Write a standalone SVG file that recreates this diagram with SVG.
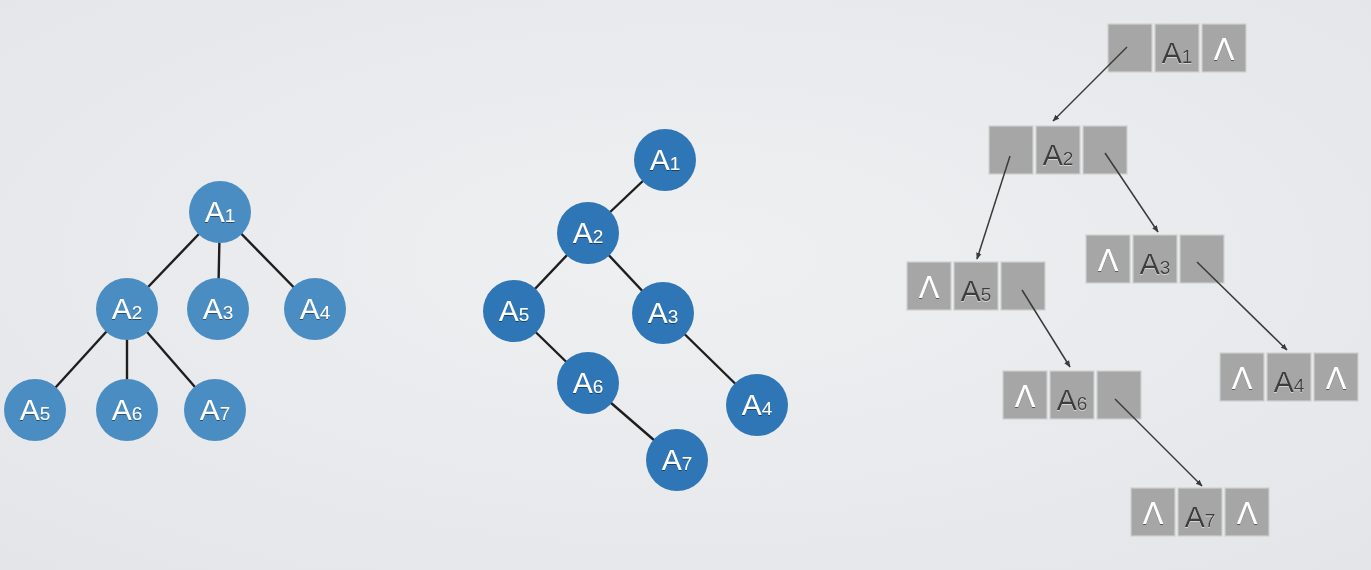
<svg xmlns="http://www.w3.org/2000/svg" width="1371" height="570" viewBox="0 0 1371 570">
<defs>
<radialGradient id="bg" cx="50%" cy="45%" r="75%">
<stop offset="0" stop-color="#eff0f2"/>
<stop offset="1" stop-color="#e3e5e8"/>
</radialGradient>
<marker id="ah" viewBox="0 0 10 10" refX="9" refY="5" markerWidth="7" markerHeight="7" orient="auto" markerUnits="userSpaceOnUse">
<path d="M0,1 L10,5 L0,9 z" fill="#3a3a3a"/>
</marker>
<filter id="sh" x="-20%" y="-20%" width="140%" height="140%">
<feDropShadow dx="0" dy="1" stdDeviation="0.6" flood-color="#000" flood-opacity="0.45"/>
</filter>
<filter id="lsh" x="-20%" y="-20%" width="140%" height="140%">
<feDropShadow dx="0" dy="1" stdDeviation="0.5" flood-color="#fff" flood-opacity="0.5"/>
</filter>
</defs>
<style>
.edge{stroke:#1e1e1e;stroke-width:2.4;fill:none}
.arrow{stroke:#3a3a3a;stroke-width:1.5;fill:none;marker-end:url(#ah)}
.c1{fill:#4a8dc3}
.c2{fill:#2e76b5}
.ct{font-family:"Liberation Sans",Arial,sans-serif;font-size:30px;fill:#fff;text-anchor:middle;filter:url(#sh)}
.sub{font-size:19px}
.box{fill:#a6a6a6;stroke:#cfd0d1;stroke-width:1.2}
.bt{font-family:"Liberation Sans",Arial,sans-serif;font-size:30px;fill:#3d3d3d;text-anchor:middle;filter:url(#lsh)}
.lam{font-family:"Liberation Sans",Arial,sans-serif;font-size:31px;fill:#fff;text-anchor:middle;filter:url(#sh)}
</style>
<rect width="1371" height="570" fill="url(#bg)"/>

<g id="connectors">
<g id="left-edges">
<line class="edge" x1="220" y1="212" x2="127" y2="309"/>
<line class="edge" x1="220" y1="212" x2="218" y2="309"/>
<line class="edge" x1="220" y1="212" x2="315" y2="309"/>
<line class="edge" x1="127" y1="309" x2="35" y2="410"/>
<line class="edge" x1="127" y1="309" x2="127" y2="410"/>
<line class="edge" x1="127" y1="309" x2="215" y2="410"/>
</g>
<g id="mid-edges">
<line class="edge" x1="665" y1="160" x2="588" y2="233"/>
<line class="edge" x1="588" y1="233" x2="514" y2="311"/>
<line class="edge" x1="588" y1="233" x2="663" y2="313"/>
<line class="edge" x1="514" y1="311" x2="588" y2="383"/>
<line class="edge" x1="588" y1="383" x2="677" y2="460"/>
<line class="edge" x1="663" y1="313" x2="757" y2="405"/>
</g>
</g>

<g id="left-tree">
<g id="L-A1"><circle class="c1" cx="220" cy="212" r="31"/><text class="ct" x="220" y="222">A<tspan class="sub">1</tspan></text></g>
<g id="L-A2"><circle class="c1" cx="127" cy="309" r="31"/><text class="ct" x="127" y="319">A<tspan class="sub">2</tspan></text></g>
<g id="L-A3"><circle class="c1" cx="218" cy="309" r="31"/><text class="ct" x="218" y="319">A<tspan class="sub">3</tspan></text></g>
<g id="L-A4"><circle class="c1" cx="315" cy="309" r="31"/><text class="ct" x="315" y="319">A<tspan class="sub">4</tspan></text></g>
<g id="L-A5"><circle class="c1" cx="35" cy="410" r="31"/><text class="ct" x="35" y="420">A<tspan class="sub">5</tspan></text></g>
<g id="L-A6"><circle class="c1" cx="127" cy="410" r="31"/><text class="ct" x="127" y="420">A<tspan class="sub">6</tspan></text></g>
<g id="L-A7"><circle class="c1" cx="215" cy="410" r="31"/><text class="ct" x="215" y="420">A<tspan class="sub">7</tspan></text></g>
</g>

<g id="mid-tree">
<g id="M-A1"><circle class="c2" cx="665" cy="160" r="31"/><text class="ct" x="665" y="170">A<tspan class="sub">1</tspan></text></g>
<g id="M-A2"><circle class="c2" cx="588" cy="233" r="31"/><text class="ct" x="588" y="243">A<tspan class="sub">2</tspan></text></g>
<g id="M-A5"><circle class="c2" cx="514" cy="311" r="31"/><text class="ct" x="514" y="321">A<tspan class="sub">5</tspan></text></g>
<g id="M-A3"><circle class="c2" cx="663" cy="313" r="31"/><text class="ct" x="663" y="323">A<tspan class="sub">3</tspan></text></g>
<g id="M-A6"><circle class="c2" cx="588" cy="383" r="31"/><text class="ct" x="588" y="393">A<tspan class="sub">6</tspan></text></g>
<g id="M-A4"><circle class="c2" cx="757" cy="405" r="31"/><text class="ct" x="757" y="415">A<tspan class="sub">4</tspan></text></g>
<g id="M-A7"><circle class="c2" cx="677" cy="460" r="31"/><text class="ct" x="677" y="470">A<tspan class="sub">7</tspan></text></g>
</g>

<g id="right-structure">
<g id="R-A1">
<rect class="box" x="1108" y="24" width="44" height="48"/>
<rect class="box" x="1155" y="24" width="44" height="48"/>
<rect class="box" x="1202" y="24" width="44" height="48"/>
<text class="bt" x="1177" y="63">A<tspan class="sub">1</tspan></text>
<text class="lam" x="1224" y="60">Λ</text>
</g>
<g id="R-A2">
<rect class="box" x="989" y="126" width="44" height="48"/>
<rect class="box" x="1036" y="126" width="44" height="48"/>
<rect class="box" x="1083" y="126" width="44" height="48"/>
<text class="bt" x="1058" y="165">A<tspan class="sub">2</tspan></text>
</g>
<g id="R-A5">
<rect class="box" x="907" y="262" width="44" height="48"/>
<rect class="box" x="954" y="262" width="44" height="48"/>
<rect class="box" x="1001" y="262" width="44" height="48"/>
<text class="lam" x="929" y="298">Λ</text>
<text class="bt" x="976" y="301">A<tspan class="sub">5</tspan></text>
</g>
<g id="R-A3">
<rect class="box" x="1086" y="235" width="44" height="48"/>
<rect class="box" x="1133" y="235" width="44" height="48"/>
<rect class="box" x="1180" y="235" width="44" height="48"/>
<text class="lam" x="1108" y="271">Λ</text>
<text class="bt" x="1155" y="274">A<tspan class="sub">3</tspan></text>
</g>
<g id="R-A6">
<rect class="box" x="1003" y="371" width="44" height="48"/>
<rect class="box" x="1050" y="371" width="44" height="48"/>
<rect class="box" x="1097" y="371" width="44" height="48"/>
<text class="lam" x="1025" y="407">Λ</text>
<text class="bt" x="1072" y="410">A<tspan class="sub">6</tspan></text>
</g>
<g id="R-A4">
<rect class="box" x="1220" y="353" width="44" height="48"/>
<rect class="box" x="1267" y="353" width="44" height="48"/>
<rect class="box" x="1314" y="353" width="44" height="48"/>
<text class="lam" x="1242" y="389">Λ</text>
<text class="bt" x="1289" y="392">A<tspan class="sub">4</tspan></text>
<text class="lam" x="1336" y="389">Λ</text>
</g>
<g id="R-A7">
<rect class="box" x="1131" y="488" width="44" height="48"/>
<rect class="box" x="1178" y="488" width="44" height="48"/>
<rect class="box" x="1225" y="488" width="44" height="48"/>
<text class="lam" x="1153" y="524">Λ</text>
<text class="bt" x="1200" y="527">A<tspan class="sub">7</tspan></text>
<text class="lam" x="1247" y="524">Λ</text>
</g>
</g>

<g id="arrows">
<line class="arrow" x1="1127" y1="47" x2="1053" y2="121"/>
<line class="arrow" x1="1010" y1="156" x2="977" y2="259"/>
<line class="arrow" x1="1105" y1="153" x2="1158" y2="232"/>
<line class="arrow" x1="1022" y1="290" x2="1070" y2="367"/>
<line class="arrow" x1="1197" y1="262" x2="1287" y2="350"/>
<line class="arrow" x1="1115" y1="399" x2="1202" y2="486"/>
</g>
</svg>
